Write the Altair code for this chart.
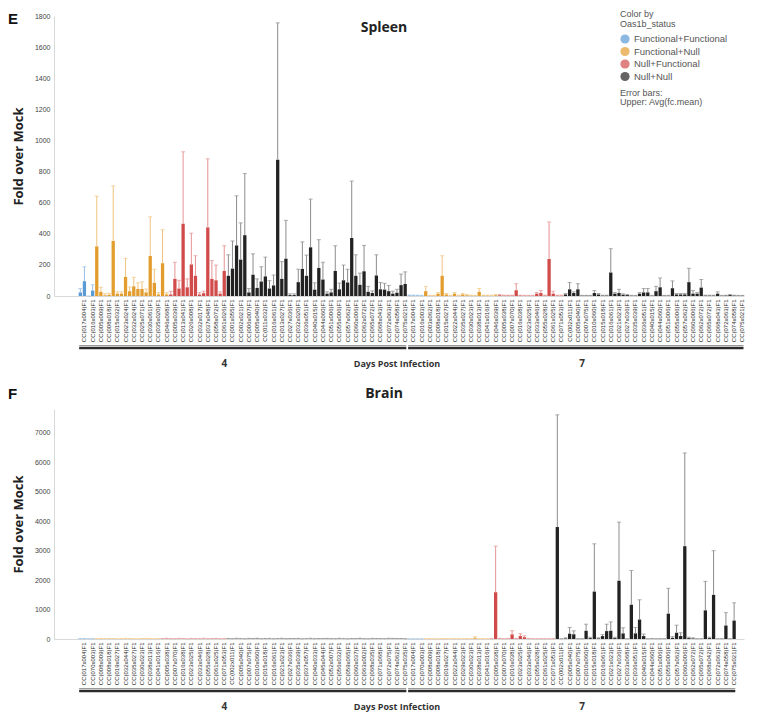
import altair as alt
import pandas as pd

STATUS = ["Functional+Functional", "Functional+Null", "Null+Functional", "Null+Null"]
BAR_COLORS = ["#5b9bd5", "#e29d2e", "#d14b4b", "#222222"]
ERR_COLORS = ["#94bfe6", "#efc47f", "#e59393", "#8c8c8c"]

spleen_ticks = [0, 200, 400, 600, 800, 1000, 1200, 1400, 1600, 1800]
brain_ticks = [0, 1000, 2000, 3000, 4000, 5000, 6000, 7000]

# ---------------- Spleen ----------------
spleen_d4_strains = [
    "CC(017x004)F1", "CC(016x003)F1",
    "CC(005x009)F1", "CC(008x018)F1", "CC(015x032)F1", "CC(023x024)F1", "CC(032x024)F1",
    "CC(025x071)F1", "CC(030x061)F1", "CC(035x020)F1", "CC(046x068)F1",
    "CC(005x039)F1", "CC(013x041)F1", "CC(026x008)F1", "CC(032x017)F1", "CC(037x048)F1",
    "CC(058x072)F1", "CC(061x026)F1",
    "CC(001x055)F1", "CC(002x021)F1", "CC(006x007)F1", "CC(005x040)F1", "CC(011x032)F1",
    "CC(016x061)F1", "CC(013x027)F1", "CC(027x036)F1", "CC(032x020)F1", "CC(036x051)F1",
    "CC(040x015)F1", "CC(044x060)F1", "CC(051x006)F1", "CC(055x006)F1", "CC(057x062)F1",
    "CC(060x006)F1", "CC(062x072)F1", "CC(065x072)F1", "CC(068x043)F1", "CC(072x063)F1",
    "CC(074x058)F1", "CC(075x021)F1",
]
spleen_d4_groups = [2, 9, 7, 22]
spleen_d4_vals = [
    23, 95, 0, 35,
    319, 27, 5, 8, 354, 15, 15, 122, 31, 62, 45, 45, 23, 257, 85, 10, 211, 10,
    10, 110, 48, 464, 56, 203, 130, 10, 18, 441, 110, 101, 15, 161,
    130, 176, 325, 234, 391, 23, 137, 52, 93, 126, 48, 68, 876, 110, 240, 6,
    6, 89, 174, 130, 313, 41, 180, 106, 15, 23, 161, 43, 101, 87, 373, 130,
    72, 159, 27, 19, 132, 43, 41, 31, 15, 21, 70, 77,
]
spleen_d4_upper = [
    48, 188, 0, 72,
    642, 56, 15, 18, 708, 27, 27, 242, 58, 120, 85, 91, 45, 509, 172, 22, 426, 22,
    30, 217, 101, 927, 110, 404, 259, 22, 31, 882, 228, 199, 27, 323,
    265, 354, 644, 470, 787, 48, 271, 110, 188, 250, 99, 135, 1756, 221, 486, 14,
    14, 172, 348, 263, 623, 85, 362, 217, 27, 43, 323, 83, 199, 172, 739, 265,
    147, 325, 62, 33, 265, 87, 81, 68, 31, 43, 141, 155,
]

spleen_d7_strains = [
    "CC(017x004)F1", "CC(016x003)F1",
    "CC(003x062)F1", "CC(008x018)F1", "CC(015x027)F1", "CC(022x044)F1", "CC(035x027)F1",
    "CC(030x023)F1", "CC(038x013)F1", "CC(041x016)F1", "CC(046x039)F1",
    "CC(005x038)F1", "CC(007x070)F1", "CC(016x038)F1", "CC(023x025)F1", "CC(033x046)F1",
    "CC(055x028)F1", "CC(061x025)F1", "CC(071x053)F1",
    "CC(002x011)F1", "CC(005x040)F1", "CC(007x075)F1", "CC(010x060)F1", "CC(015x018)F1",
    "CC(016x061)F1", "CC(021x023)F1", "CC(027x036)F1", "CC(035x039)F1", "CC(036x051)F1",
    "CC(040x015)F1", "CC(044x060)F1", "CC(051x006)F1", "CC(055x006)F1", "CC(057x062)F1",
    "CC(060x006)F1", "CC(062x072)F1", "CC(065x072)F1", "CC(068x043)F1", "CC(072x063)F1",
    "CC(074x058)F1", "CC(075x021)F1",
]
spleen_d7_groups = [2, 9, 8, 22]
spleen_d7_vals = [
    3, 3, 3, 2,
    31, 2, 2, 15, 130, 10, 2, 15, 3, 10, 5, 3, 2, 27, 3, 3, 3, 5,
    5, 3, 3, 3, 37, 3, 2, 2, 2, 15, 19, 3, 238, 15, 3, 3,
    10, 43, 19, 43, 2, 2, 2, 19, 10, 3, 3, 151, 15, 19, 8, 6, 2, 2, 15, 23,
    23, 2, 31, 56, 2, 2, 50, 10, 10, 10, 89, 15, 15, 54, 3, 3, 3, 15, 2, 3,
    6, 3, 2, 2,
]
spleen_d7_upper = [
    6, 5, 5, 4,
    62, 4, 4, 22, 259, 16, 4, 22, 5, 16, 9, 5, 4, 48, 5, 5, 5, 9,
    9, 5, 5, 5, 79, 5, 4, 4, 4, 22, 35, 5, 476, 31, 5, 5,
    16, 87, 27, 79, 4, 4, 4, 35, 16, 5, 5, 304, 22, 43, 14, 10, 4, 4, 22, 48,
    48, 4, 62, 116, 4, 4, 97, 16, 16, 16, 178, 35, 22, 106, 5, 5, 5, 27, 4, 5,
    10, 5, 4, 4,
]

# ---------------- Brain ----------------
brain_d4_strains = [
    "CC(017x004)F1", "CC(070x003)F1",
    "CC(008x009)F1", "CC(008x018)F1", "CC(019x027)F1", "CC(032x044)F1", "CC(035x027)F1",
    "CC(030x023)F1", "CC(038x013)F1", "CC(041x016)F1",
    "CC(005x038)F1", "CC(007x070)F1", "CC(016x038)F1", "CC(023x025)F1", "CC(033x046)F1",
    "CC(055x028)F1", "CC(061x025)F1", "CC(071x053)F1",
    "CC(002x011)F1", "CC(005x040)F1", "CC(007x075)F1", "CC(010x060)F1", "CC(015x018)F1",
    "CC(016x061)F1", "CC(021x023)F1", "CC(027x036)F1", "CC(035x039)F1", "CC(037x057)F1",
    "CC(040x033)F1", "CC(045x044)F1", "CC(052x007)F1", "CC(056x032)F1", "CC(059x065)F1",
    "CC(060x037)F1", "CC(063x002)F1", "CC(068x035)F1", "CC(071x068)F1", "CC(072x075)F1",
    "CC(074x062)F1", "CC(075x035)F1",
]
brain_d4_groups = [2, 8, 8, 22]
brain_d4_vals = [
    4, 6, 3, 5,
    5, 8, 4, 6, 7, 3, 5, 9, 6, 4, 3, 7, 8, 5, 4, 6,
    6, 9, 5, 4, 8, 6, 3, 7, 5, 5, 9, 4, 6, 8, 4, 5,
    7, 5, 9, 6, 4, 8, 6, 10, 5, 7, 8, 4, 6, 9, 5, 6, 7, 8, 4, 6, 9, 5,
    6, 7, 8, 5, 5, 9, 6, 4, 7, 6, 10, 5, 4, 8, 6, 7, 5, 9, 8, 6, 7, 4,
]
brain_d4_upper = [
    12, 15, 9, 13,
    14, 20, 11, 16, 18, 9, 13, 24, 15, 11, 8, 18, 21, 13, 10, 15,
    16, 25, 13, 10, 22, 16, 8, 19, 13, 14, 24, 11, 16, 21, 10, 13,
    19, 13, 24, 16, 10, 21, 16, 26, 13, 18, 21, 11, 16, 24, 13, 16, 18, 21, 10, 16, 24, 13,
    16, 18, 21, 13, 13, 24, 16, 10, 18, 16, 26, 13, 10, 21, 16, 18, 13, 24, 21, 16, 18, 10,
]

brain_d7_strains = [
    "CC(017x004)F1", "CC(070x003)F1",
    "CC(008x009)F1", "CC(008x018)F1", "CC(019x027)F1", "CC(022x044)F1", "CC(029x023)F1",
    "CC(030x023)F1", "CC(038x013)F1", "CC(041x016)F1",
    "CC(005x038)F1", "CC(007x070)F1", "CC(016x038)F1", "CC(023x025)F1", "CC(033x046)F1",
    "CC(055x028)F1", "CC(061x025)F1", "CC(071x053)F1",
    "CC(002x011)F1", "CC(005x040)F1", "CC(007x075)F1", "CC(010x060)F1", "CC(015x018)F1",
    "CC(016x061)F1", "CC(021x023)F1", "CC(027x036)F1", "CC(033x068)F1", "CC(036x051)F1",
    "CC(040x015)F1", "CC(044x060)F1", "CC(051x006)F1", "CC(055x006)F1", "CC(057x062)F1",
    "CC(060x006)F1", "CC(062x072)F1", "CC(065x072)F1", "CC(068x042)F1", "CC(072x063)F1",
    "CC(074x058)F1", "CC(075x021)F1",
]
brain_d7_groups = [2, 8, 8, 22]
brain_d7_vals = [
    3, 3, 3, 3,
    4, 6, 5, 3, 7, 5, 4, 6, 5, 4, 6, 5, 30, 4, 6, 5,
    6, 1587, 10, 5, 10, 157, 10, 100, 60, 10, 5, 4, 6, 5, 4, 6,
    3797, 5, 20, 180, 160, 5, 5, 280, 30, 1608, 20, 100, 268, 280, 30, 1976,
    190, 5, 1162, 190, 660, 100, 5, 8, 5, 6, 5, 860, 40, 212, 100, 3148,
    30, 20, 5, 6, 971, 30, 1497, 5, 6, 458, 5, 625,
]
brain_d7_upper = [
    6, 6, 6, 6,
    8, 12, 10, 6, 14, 10, 8, 12, 10, 8, 12, 10, 80, 8, 12, 10,
    12, 3148, 20, 10, 20, 280, 20, 180, 110, 20, 10, 8, 12, 10, 8, 12,
    7602, 10, 40, 392, 277, 10, 10, 502, 60, 3228, 40, 150, 502, 580, 60, 3965,
    380, 10, 2324, 392, 1330, 170, 10, 15, 10, 12, 10, 1720, 80, 468, 212, 6310,
    60, 40, 10, 12, 1955, 60, 2994, 10, 12, 894, 10, 1228,
]

W = 690
LABEL_EXPR = ("length(split(datum.label, '|')) == 3 && split(datum.label, '|')[2] == '1' "
              "? split(datum.label, '|')[1] : ''")


def status_list(groups):
    out = []
    for s, n in zip(STATUS, groups):
        out += [s] * n
    return out


def bar_rows(day, strains, groups, vals, upper):
    st = status_list(groups)
    rows = []
    for i, name in enumerate(strains):
        for sub in (0, 1):
            j = 2 * i + sub
            rows.append({"key": f"{day}|{name}|{sub}", "val": vals[j], "upper": upper[j],
                         "status": st[i], "errc": ERR_COLORS[STATUS.index(st[i])]})
    return rows


def panel(d4, d7, n_pad_end, ymax, ticks, H, title, title_y, letter, letter_y, legend, extra_text):
    rows = bar_rows(4, *d4) + bar_rows(7, *d7)
    df = pd.DataFrame(rows)
    domain = [f"pad|{i}" for i in range(6)] + list(df["key"]) + [f"padend|{i}" for i in range(n_pad_end)]
    xs = alt.Scale(domain=domain, paddingInner=0.2, paddingOuter=0)
    xa = alt.Axis(title=None, labelAngle=270, labelExpr=LABEL_EXPR, labelFontSize=6,
                  labelColor="#2a2a2a", labelPadding=3, ticks=False, domainColor="#d9d9d9",
                  labelOverlap=False, labelBound=False, labelFont="Liberation Sans")
    ys = alt.Scale(domain=[0, ymax], nice=False)
    ya = alt.Axis(title="Fold over Mock", values=ticks, format="d", grid=False, ticks=False,
                  domainColor="#d9d9d9", labelFontSize=7, labelColor="#444444", labelPadding=4,
                  labelFont="Liberation Sans", titleFontSize=13, titleFont="Open Sans",
                  titleFontWeight="bold", titleColor="#222222", titlePadding=9)
    X = alt.X("key:N", scale=xs, axis=xa)

    bars = alt.Chart(df).mark_bar().encode(
        x=X,
        y=alt.Y("val:Q", scale=ys, axis=ya),
        color=alt.Color("status:N", scale=alt.Scale(domain=STATUS, range=BAR_COLORS), legend=legend),
    )
    err = alt.Chart(df).mark_rule(strokeWidth=1).encode(
        x=X, y=alt.Y("val:Q", scale=ys, axis=ya), y2="upper:Q",
        color=alt.Color("errc:N", scale=None),
    )
    caps = alt.Chart(df).mark_tick(thickness=1, size=4).encode(
        x=X, y=alt.Y("upper:Q", scale=ys, axis=ya),
        color=alt.Color("errc:N", scale=None),
    )

    d4_strains, d7_strains = d4[0], d7[0]
    br = pd.DataFrame({
        "k0": [f"4|{d4_strains[0]}|0", f"7|{d7_strains[0]}|0"],
        "k1": [f"4|{d4_strains[-1]}|1", f"7|{d7_strains[-1]}|1"],
    })
    bracket = alt.Chart(br).mark_rule(strokeWidth=2.5, color="#2b2b2b").encode(
        x=alt.X("k0:N", scale=xs, axis=xa, bandPosition=0.15),
        x2=alt.X2("k1", bandPosition=0.85),
        y=alt.value(H + 52),
    )
    bracket_thin = alt.Chart(br).mark_rule(strokeWidth=1, color="#9a9a9a").encode(
        x=alt.X("k0:N", scale=xs, axis=xa, bandPosition=0.15),
        x2=alt.X2("k1", bandPosition=0.85),
        y=alt.value(H + 49.5),
    )
    days = pd.DataFrame({
        "k": [f"4|{d4_strains[17]}|1", f"7|{d7_strains[21]}|0"],
        "t": ["4", "7"],
    })
    day_text = alt.Chart(days).mark_text(font="Open Sans", fontSize=10, fontWeight="bold",
                                         color="#333333").encode(
        x=alt.X("k:N", scale=xs, axis=xa), y=alt.value(H + 68), text="t:N")
    dpi = pd.DataFrame({"k": [f"4|{d4_strains[38]}|1"], "t": ["Days Post Infection"]})
    dpi_text = alt.Chart(dpi).mark_text(font="Open Sans", fontSize=9, fontWeight="bold",
                                        color="#333333").encode(
        x=alt.X("k:N", scale=xs, axis=xa), y=alt.value(H + 68), text="t:N")

    ttl = alt.Chart(pd.DataFrame({"t": [title]})).mark_text(
        font="Open Sans", fontSize=14, fontWeight="bold", color="#222222").encode(
        text="t:N", x=alt.value(330), y=alt.value(title_y))
    let = alt.Chart(pd.DataFrame({"t": [letter]})).mark_text(
        font="Liberation Sans", fontSize=15, fontWeight="bold", color="#111111", align="left").encode(
        text="t:N", x=alt.value(-46), y=alt.value(letter_y))

    layers = [bars, err, caps, bracket_thin, bracket, day_text, dpi_text, ttl, let]
    for txt, yy in extra_text:
        layers.append(alt.Chart(pd.DataFrame({"t": [txt]})).mark_text(
            font="Liberation Sans", fontSize=9, color="#555555", align="left").encode(
            text="t:N", x=alt.value(566), y=alt.value(yy)))
    return alt.layer(*layers).properties(width=W, height=H)


spleen_legend = alt.Legend(
    title=["Color by", "Oas1b_status"], orient="none", legendX=566, legendY=-6,
    symbolType="circle", symbolSize=85, symbolStrokeWidth=0, labelFontSize=9.5, titleFontSize=9,
    titleLineHeight=10, titleFontWeight="normal", titleColor="#555555", labelColor="#555555",
    rowPadding=2.5, titlePadding=5, labelFont="Liberation Sans", titleFont="Liberation Sans",
)

spleen = panel(
    (spleen_d4_strains, spleen_d4_groups, spleen_d4_vals, spleen_d4_upper),
    (spleen_d7_strains, spleen_d7_groups, spleen_d7_vals, spleen_d7_upper),
    0, 1800, spleen_ticks, 280, "Spleen", 12, "E", 3, spleen_legend,
    [("Error bars:", 77), ("Upper: Avg(fc.mean)", 86)],
)
brain = panel(
    (brain_d4_strains, brain_d4_groups, brain_d4_vals, brain_d4_upper),
    (brain_d7_strains, brain_d7_groups, brain_d7_vals, brain_d7_upper),
    2, 7800, brain_ticks, 230, "Brain", -15, "F", -15, None, [],
)

chart = alt.vconcat(spleen, brain, spacing=18).resolve_scale(
    x="independent", y="independent", color="independent"
).resolve_legend(color="independent").properties(
    padding={"left": 0, "top": 2, "right": 0, "bottom": 0}
).configure_view(stroke=None)

chart.save("out.html", embed_options={"renderer": "svg", "actions": False})
